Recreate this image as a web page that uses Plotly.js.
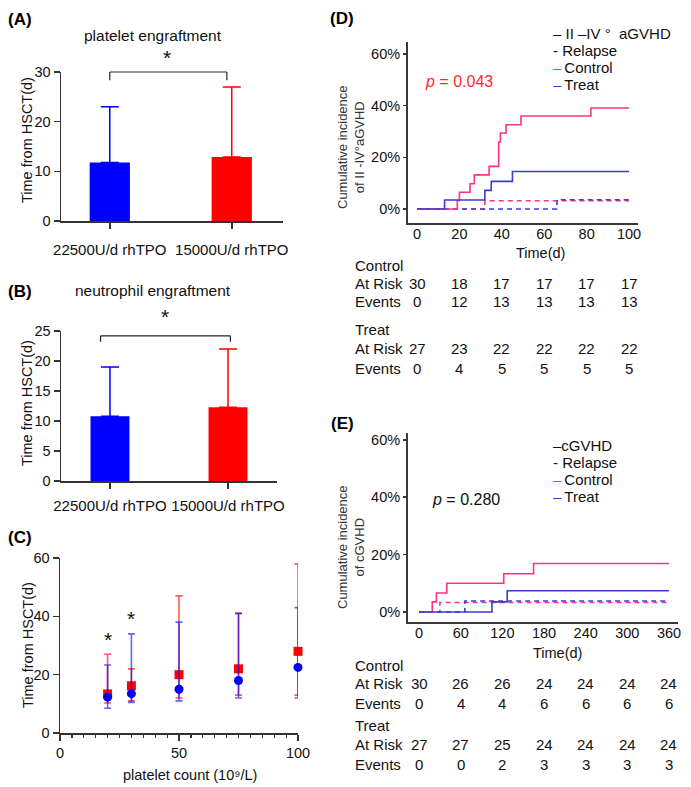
<!DOCTYPE html>
<html><head><meta charset="utf-8">
<script src="https://cdn.plot.ly/plotly-3.0.1.min.js"></script>
<style>html,body{margin:0;padding:0;background:#fff}</style>
</head><body><div id="chart" style="width:691px;height:787px"></div>
<script>
// ---------- DATA ----------
const groups = ['22500U/d rhTPO', '15000U/d rhTPO'];
const plateletMean = [11.8, 12.9];
const plateletUpper = [23, 27];
const neutrophilMean = [10.8, 12.3];
const neutrophilUpper = [19, 22];

const plateletCount = [20, 30, 50, 75, 100];
const redMean = [13.4, 16.2, 20, 22, 28];
const redUpper = [27, 22, 47, 41, 58];
const redLower = [10.3, 11, 12, 13, 13];
const blueMean = [12.3, 13.5, 15, 18, 22.5];
const blueUpper = [23.3, 34, 38, 41, 43];
const blueLower = [8.5, 10.5, 11, 12, 12];
const sigCountX = [20, 30];
const sigCountY = [33.6, 40.6];

// Panel D: II-IV aGVHD cumulative incidence (%)
const dCtlTime = [0, 19, 20, 25, 27, 34, 38.5, 39.3, 42, 49, 82, 100];
const dCtlInc  = [0, 3.3, 6.5, 9.8, 13.2, 16.5, 25.9, 29.4, 32.6, 36.0, 39.1, 39.1];
const dTrtTime = [0, 13, 32, 35, 45, 100];
const dTrtInc  = [0, 3.5, 7.2, 10.7, 14.5, 14.5];
const dCtlRelTime = [0, 32, 100];
const dCtlRelInc  = [0, 3.2, 3.2];
const dTrtRelTime = [0, 66, 100];
const dTrtRelInc  = [0, 3.6, 3.6];

// Panel E: cGVHD cumulative incidence (%)
const eCtlTime = [0, 19, 25, 40, 122, 165, 360];
const eCtlInc  = [0, 3.5, 6.6, 10.0, 13.3, 16.9, 16.9];
const eTrtTime = [0, 105, 127, 360];
const eTrtInc  = [0, 3.5, 7.4, 7.4];
const eCtlRelTime = [0, 30, 360];
const eCtlRelInc  = [0, 3.3, 3.3];
const eTrtRelTime = [0, 66, 360];
const eTrtRelInc  = [0, 3.8, 3.8];

const pctTicks = [0, 20, 40, 60];

// Number at risk tables
const dRiskTimes = [0, 20, 40, 60, 80, 100];
const dCtlRisk = [30, 18, 17, 17, 17, 17];
const dCtlEvents = [0, 12, 13, 13, 13, 13];
const dTrtRisk = [27, 23, 22, 22, 22, 22];
const dTrtEvents = [0, 4, 5, 5, 5, 5];
const eRiskTimes = [0, 60, 120, 180, 240, 300, 360];
const eCtlRisk = [30, 26, 26, 24, 24, 24, 24];
const eCtlEvents = [0, 4, 4, 6, 6, 6, 6];
const eTrtRisk = [27, 27, 25, 24, 24, 24, 24];
const eTrtEvents = [0, 0, 2, 3, 3, 3, 3];

// ---------- STYLE ----------
const W = 691, H = 787;
const px = v => v / W;
const py = v => 1 - v / H;
const FONT = 'Liberation Sans, Arial, sans-serif';
const BLUE = '#0000ff', RED = '#ff0000';
const PINK = '#ff3385', KMBLUE = '#3b3bd6';
const AX = '#333333';

const traces = [];
function bar(x, mean, upper, color, xa, ya) {
  traces.push({
    type: 'bar', x: [x], y: [mean], width: 0.33, xaxis: xa, yaxis: ya,
    marker: {color: color, line: {width: 0}},
    error_y: {type: 'data', symmetric: false, array: [upper - mean], arrayminus: [0],
              color: color, thickness: 1.5, width: 9},
    showlegend: false, hoverinfo: 'skip'
  });
}
bar(groups[0], plateletMean[0], plateletUpper[0], BLUE, 'x', 'y');
bar(groups[1], plateletMean[1], plateletUpper[1], RED, 'x', 'y');
bar(groups[0], neutrophilMean[0], neutrophilUpper[0], BLUE, 'x2', 'y2');
bar(groups[1], neutrophilMean[1], neutrophilUpper[1], RED, 'x2', 'y2');

traces.push({
  type: 'scatter', mode: 'markers', x: plateletCount, y: redMean, xaxis: 'x3', yaxis: 'y3',
  marker: {symbol: 'square', size: 9, color: RED},
  error_y: {type: 'data', symmetric: false,
            array: redUpper.map((u, i) => u - redMean[i]),
            arrayminus: redLower.map((l, i) => redMean[i] - l),
            color: 'rgba(255,0,0,0.65)', thickness: 1.6, width: 3.5},
  showlegend: false, cliponaxis: false
});
traces.push({
  type: 'scatter', mode: 'markers', x: plateletCount, y: blueMean, xaxis: 'x3', yaxis: 'y3',
  marker: {symbol: 'circle', size: 9, color: BLUE},
  error_y: {type: 'data', symmetric: false,
            array: blueUpper.map((u, i) => u - blueMean[i]),
            arrayminus: blueMean.map((m, i) => m - blueLower[i]),
            color: 'rgba(0,0,255,0.6)', thickness: 1.6, width: 3.5},
  showlegend: false, cliponaxis: false
});

function step(x, y, color, dash, xa, ya) {
  traces.push({type: 'scatter', mode: 'lines', x: x, y: y, xaxis: xa, yaxis: ya,
    line: {shape: 'hv', color: color, width: 1.6, dash: dash}, showlegend: false});
}
step(dCtlRelTime, dCtlRelInc, PINK, '5px,4px', 'x4', 'y4');
step(dTrtRelTime, dTrtRelInc, KMBLUE, '5px,4px', 'x4', 'y4');
step(dCtlTime, dCtlInc, PINK, 'solid', 'x4', 'y4');
step(dTrtTime, dTrtInc, KMBLUE, 'solid', 'x4', 'y4');
step(eCtlRelTime, eCtlRelInc, PINK, '5px,4px', 'x5', 'y5');
step(eTrtRelTime, eTrtRelInc, KMBLUE, '5px,4px', 'x5', 'y5');
step(eCtlTime, eCtlInc, PINK, 'solid', 'x5', 'y5');
step(eTrtTime, eTrtInc, KMBLUE, 'solid', 'x5', 'y5');

// ---------- AXES ----------
const tf = {family: FONT, size: 14.5, color: '#111'};
function ax(o) {
  return Object.assign({showline: true, linecolor: AX, linewidth: 1.5, showgrid: false,
    zeroline: false, ticks: 'outside', ticklen: 6, tickwidth: 1.5, tickcolor: AX,
    tickfont: tf, fixedrange: true}, o);
}
const catFont = {family: FONT, size: 15, color: '#111'};
const layout = {
  width: W, height: H, margin: {l: 0, r: 0, t: 0, b: 0},
  paper_bgcolor: '#fff', plot_bgcolor: 'rgba(0,0,0,0)',
  barmode: 'overlay', showlegend: false, font: {family: FONT, color: '#111'},
  xaxis: ax({domain: [px(61), px(283)], range: [-0.4, 1.42], type: 'category', anchor: 'y', ticklabelstandoff: 8, tickfont: catFont}),
  yaxis: ax({domain: [py(221), py(72)], range: [0, 30], dtick: 10, anchor: 'x'}),
  xaxis2: ax({domain: [px(61), px(277)], range: [-0.415, 1.415], type: 'category', anchor: 'y2', ticklabelstandoff: 4, tickfont: catFont}),
  yaxis2: ax({domain: [py(481), py(331)], range: [0, 25], dtick: 5, anchor: 'x2'}),
  xaxis3: ax({domain: [px(60), px(298)], range: [0, 100], dtick: 50, anchor: 'y3',
    minor: {dtick: 5, ticks: 'outside', ticklen: 3, tickcolor: AX, tickwidth: 1.2}}),
  yaxis3: ax({domain: [py(733), py(558)], range: [0, 60], dtick: 20, anchor: 'x3'}),
  xaxis4: ax({domain: [px(408), px(638)], range: [-4.25, 104.2], dtick: 20, anchor: 'y4',
    ticks: '', ticklabelstandoff: -3, linewidth: 2, linecolor: '#3a3a3a'}),
  yaxis4: ax({domain: [py(223), py(42)], range: [-5.4, 64.6], tickmode: 'array', tickvals: pctTicks,
    ticktext: pctTicks.map(v => v + '%'), anchor: 'x4', ticklen: 3, linewidth: 2, linecolor: '#3a3a3a'}),
  xaxis5: ax({domain: [px(408), px(678)], range: [-15.9, 373], dtick: 60, anchor: 'y5',
    ticks: '', ticklabelstandoff: -3, linewidth: 2, linecolor: '#3a3a3a'}),
  yaxis5: ax({domain: [py(622), py(433)], range: [-3.5, 62.4], tickmode: 'array', tickvals: pctTicks,
    ticktext: pctTicks.map(v => v + '%'), anchor: 'x5', ticklen: 3, linewidth: 2, linecolor: '#3a3a3a'}),
  shapes: [], annotations: []
};

// significance brackets
function bracket(xa, ya, x0, x1, y, drop) {
  const l = {color: '#222', width: 1.2};
  layout.shapes.push({type: 'line', xref: xa, yref: ya, x0: x0, x1: x1, y0: y, y1: y, line: l});
  layout.shapes.push({type: 'line', xref: xa, yref: ya, x0: x0, x1: x0, y0: y, y1: y - drop, line: l});
  layout.shapes.push({type: 'line', xref: xa, yref: ya, x0: x1, x1: x1, y0: y, y1: y - drop, line: l});
}
bracket('x', 'y domain', 0, 0.96, 1.0, 0.055);
bracket('x2', 'y2 domain', -0.08, 1.02, 0.968, 0.04);

const A = layout.annotations;
function txt(x, y, text, o) {
  A.push(Object.assign({xref: 'paper', yref: 'paper', x: px(x), y: py(y), text: text,
    showarrow: false, xanchor: 'center', yanchor: 'middle',
    font: {family: FONT, size: 14, color: '#111'}}, o || {}));
}
// panel letters
const bf = {family: FONT, size: 17, color: '#000'};
txt(20, 20, '<b>(A)</b>', {font: bf});
txt(20, 292, '<b>(B)</b>', {font: bf});
txt(20, 537, '<b>(C)</b>', {font: bf});
txt(342, 18, '<b>(D)</b>', {font: bf});
txt(342, 423, '<b>(E)</b>', {font: bf});
// titles
txt(153, 35, 'platelet engraftment', {font: {family: FONT, size: 15.5, color: '#111'}});
txt(153, 290, 'neutrophil engraftment', {font: {family: FONT, size: 15.5, color: '#111'}});
// stars
const sf = {family: FONT, size: 21, color: '#111'};
A.push({xref: 'x', yref: 'y domain', x: 0.47, y: 1.1, text: '*', showarrow: false, yanchor: 'middle', font: sf});
A.push({xref: 'x2', yref: 'y2 domain', x: 0.47, y: 1.1, text: '*', showarrow: false, yanchor: 'middle', font: sf});
sigCountX.forEach((x, i) => A.push({xref: 'x3', yref: 'y3', x: x, y: sigCountY[i] - 1.5, text: '*',
  showarrow: false, yanchor: 'middle', font: sf}));
// y titles A-C
const yt = {family: FONT, size: 14.5, color: '#111'};
txt(27, 140, 'Time from HSCT(d)', {textangle: -90, font: yt});
txt(27, 403, 'Time from HSCT(d)', {textangle: -90, font: yt});
txt(28, 645, 'Time from HSCT(d)', {textangle: -90, font: yt});
txt(190, 775, 'platelet count (10⁹/L)', {font: yt});
// D/E titles
txt(351, 147, 'Cumulative incidence<br>of II -IV°aGVHD', {textangle: -90, font: {family: FONT, size: 13, color: '#333'}});
txt(351, 547, 'Cumulative incidence<br>of cGVHD', {textangle: -90, font: {family: FONT, size: 13, color: '#333'}});
txt(540, 253, 'Time(d)', {font: yt});
txt(557, 653, 'Time(d)', {font: yt});
// p values
txt(423, 81, '<i>p</i> = 0.043', {xanchor: 'left', font: {family: FONT, size: 16, color: '#ff2a2a'}});
txt(430, 499, '<i>p</i> = 0.280', {xanchor: 'left', font: {family: FONT, size: 16, color: '#111'}});
// legends
const lf = {family: FONT, size: 15, color: '#111'};
const sp = '\u2009';
txt(551, 34, '–\u00a0II –IV °\u00a0\u00a0aGVHD', {xanchor: 'left', font: lf});
txt(551, 51, '-\u00a0Relapse', {xanchor: 'left', font: lf});
txt(551, 67, '<span style="color:' + PINK + '">–</span>' + sp + 'Control', {xanchor: 'left', font: lf});
txt(551, 85, '<span style="color:' + KMBLUE + '">–</span>' + sp + 'Treat', {xanchor: 'left', font: lf});
txt(551, 445, '–cGVHD', {xanchor: 'left', font: lf});
txt(551, 462, '-\u00a0Relapse', {xanchor: 'left', font: lf});
txt(551, 479, '<span style="color:' + PINK + '">–</span>' + sp + 'Control', {xanchor: 'left', font: lf});
txt(551, 496, '<span style="color:' + KMBLUE + '">–</span>' + sp + 'Treat', {xanchor: 'left', font: lf});

// risk tables
const tfnt = {family: FONT, size: 15, color: '#111'};
function table(xa, times, rows) {
  rows.forEach(r => {
    txt(353, r.y, r.label, {xanchor: 'left', font: tfnt});
    if (r.vals) r.vals.forEach((v, i) => A.push({xref: xa, yref: 'paper', x: times[i], y: py(r.y),
      text: String(v), showarrow: false, xanchor: 'center', yanchor: 'middle', font: tfnt}));
  });
}
table('x4', dRiskTimes, [
  {y: 265, label: 'Control'},
  {y: 283, label: 'At Risk', vals: dCtlRisk},
  {y: 301, label: 'Events', vals: dCtlEvents},
  {y: 329, label: 'Treat'},
  {y: 349, label: 'At Risk', vals: dTrtRisk},
  {y: 368, label: 'Events', vals: dTrtEvents}
]);
table('x5', eRiskTimes, [
  {y: 665, label: 'Control'},
  {y: 683, label: 'At Risk', vals: eCtlRisk},
  {y: 703, label: 'Events', vals: eCtlEvents},
  {y: 725, label: 'Treat'},
  {y: 744, label: 'At Risk', vals: eTrtRisk},
  {y: 764, label: 'Events', vals: eTrtEvents}
]);

Plotly.newPlot('chart', traces, layout, {staticPlot: true, displayModeBar: false});
</script></body></html>
